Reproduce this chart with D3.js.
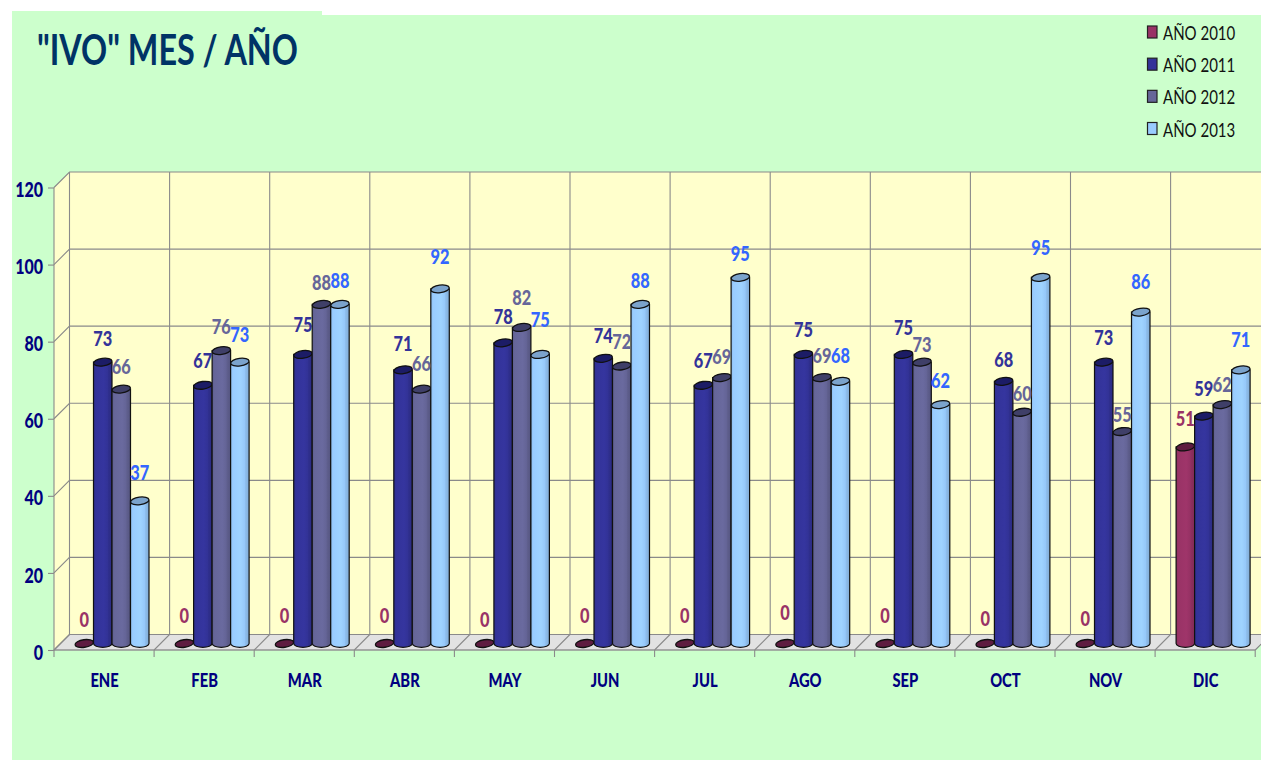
<!DOCTYPE html>
<html><head><meta charset="utf-8">
<script src="https://cdn.jsdelivr.net/npm/d3@7/dist/d3.min.js"></script>
<style>html,body{margin:0;padding:0;background:#fff;overflow:hidden}svg{display:block}text{font-family:Lato,Carlito,sans-serif}</style>
</head><body><div id="c"></div>
<script>
const categories=["ENE","FEB","MAR","ABR","MAY","JUN","JUL","AGO","SEP","OCT","NOV","DIC"];
const seriesNames=["AÑO 2010","AÑO 2011","AÑO 2012","AÑO 2013"];
const values2010=[0,0,0,0,0,0,0,0,0,0,0,51];
const values2011=[73,67,75,71,78,74,67,75,75,68,73,59];
const values2012=[66,76,88,66,82,72,69,69,73,60,55,62];
const values2013=[37,73,88,92,75,88,95,68,62,95,86,71];
const yTicks=[0,20,40,60,80,100,120];
const colors=["#993366","#333399","#666699","#99CCFF"];
const tops=["#5e1c40","#1c1c66","#3f3f68","#7ba3cc"];
const labelColors=["#993366","#333399","#666699","#3366FF"];
const allSeries=[values2010,values2011,values2012,values2013];
// hand placement of data labels, as in the source chart (px down from the default spot)
const labelNudge=[
  [-1,-5,-5,-5,-1,-5,-5,-8,-5,-2,-2,0],
  [5,4,-1,2,2,6,4,4,2,7,4,1],
  [6,4,7,3,-1,4,7,6,11,10,11,8],
  [6,7,11,2,0,11,11,9,10,5,4,4]
];

const W=1261,H=760,depth=15.5,fx0=54,fx1=1255.2;
const svg=d3.select("#c").append("svg").attr("width",W).attr("height",H);
const defs=svg.append("defs");
colors.forEach((c,i)=>{
  const g=defs.append("linearGradient").attr("id","g"+i);
  const col=d3.color(c);
  [[0,col.darker(.25)],[.12,col],[.55,col.brighter(.1)],[.76,col.darker(.05)],[.8,col.darker(.2)],[1,col.darker(.5)]]
    .forEach(s=>g.append("stop").attr("offset",s[0]).attr("stop-color",s[1]));
});
const y=d3.scaleLinear().domain([0,120]).range([650,187.5]);
const x=d3.scaleBand().domain(categories).range([fx0,fx1]);
const sub=d3.scaleBand().domain(d3.range(4)).range([21,95]);
const gridC="#8a8a8a";

// background
svg.append("path").attr("fill","#CCFFCC")
  .attr("d",`M12,11H322V15H${W}V${H}H12Z`);
// walls
svg.append("rect").attr("x",fx0+depth).attr("y",y(120)-depth).attr("width",fx1-fx0)
  .attr("height",y(0)-y(120)).attr("fill","#FFFFCC");
svg.append("path").attr("fill","#FFFFCC")
  .attr("d",`M${fx0},${y(0)}V${y(120)}L${fx0+depth},${y(120)-depth}V${y(0)-depth}Z`);
// floor
svg.append("path").attr("fill","#e2e2e2").attr("stroke","#a8a8a8")
  .attr("d",`M${fx0},${y(0)}L${fx0+depth},${y(0)-depth}H${fx1+depth}L${fx1},${y(0)}Z`);
// grid
const grid=svg.append("g").attr("stroke",gridC).attr("fill","none").attr("stroke-width",1.1);
yTicks.forEach(t=>{
  grid.append("path").attr("d",`M${fx0},${y(t)}L${fx0+depth},${y(t)-depth}H${fx1+depth}`);
});
categories.concat("end").forEach((c,i)=>{
  const xx=fx0+i*x.bandwidth();
  grid.append("path").attr("d",`M${xx},${y(0)}L${xx+depth},${y(0)-depth}V${y(120)-depth}`);
  grid.append("line").attr("x1",xx).attr("x2",xx).attr("y1",y(0)).attr("y2",y(0)+7);
});
grid.append("path").attr("d",`M${fx0},${y(120)}V${y(0)}H${fx1}`);

// axes
const axL=d3.axisLeft(y).tickValues(yTicks).tickSize(6).tickPadding(0).tickSizeOuter(0);
const gL=svg.append("g").attr("transform",`translate(${fx0},0)`).call(axL);
gL.select(".domain").remove();
gL.selectAll("line").attr("stroke",gridC).attr("stroke-width",1.1);
gL.selectAll("text").attr("fill","#000080").attr("font-size",20).attr("font-weight",900)
  .attr("x",0).attr("dy",null).attr("dominant-baseline","middle")
  .attr("transform","translate(-11,4) scale(.8,1)");
const axB=d3.axisBottom(x).tickSize(0).tickPadding(24);
const gB=svg.append("g").attr("transform",`translate(0,${y(0)})`).call(axB);
gB.select(".domain").remove();
gB.selectAll("text").attr("fill","#000080").attr("font-size",18).attr("font-weight",900)
  .attr("transform","translate(0.5,0) scale(.82,1)");

// bars
const base=643.5, rx=sub.bandwidth()/2, ry=3.8;
const vy=v=>base-(y(0)-y(v));
const gBars=svg.append("g");
categories.forEach((c,ci)=>{
  allSeries.forEach((vals,si)=>{
    const v=vals[ci];
    const x0=x(c)+sub(si), x1=x0+sub.bandwidth(), cx=(x0+x1)/2, top=vy(v);
    const g=gBars.append("g");
    if(v>0){
      g.append("path").attr("fill",`url(#g${si})`).attr("stroke","#111").attr("stroke-width",1.2)
       .attr("d",`M${x0},${top}V${base}A${rx},${ry} 0 0 0 ${x1},${base}V${top}Z`);
    }
    g.append("ellipse").attr("cx",cx).attr("cy",top).attr("rx",rx).attr("ry",ry)
     .attr("transform",`rotate(-8 ${cx} ${top})`)
     .attr("fill",tops[si]).attr("stroke","#111").attr("stroke-width",1.3);
  });
});

// data labels
const gLab=svg.append("g");
allSeries.forEach((vals,si)=>{
  vals.forEach((v,ci)=>{
    const cx=x(categories[ci])+sub(si)+sub.bandwidth()/2;
    const off=si===3?33:(v===0?22:27);
    gLab.append("text")
      .attr("transform",`translate(${cx},${vy(v)-off+6+labelNudge[si][ci]}) scale(.82,1)`)
      .attr("text-anchor","middle").attr("font-size",20).attr("font-weight",900)
      .attr("fill",labelColors[si]).text(v);
  });
});

// title
svg.append("text").attr("transform","translate(37,65) scale(.77,1)")
  .attr("font-size",42).attr("font-weight",700).attr("fill","#003366").text('"IVO" MES / AÑO');

// legend
const legY=d3.scalePoint().domain(seriesNames).range([32.5,129]);
const leg=svg.append("g");
seriesNames.forEach((n,i)=>{
  leg.append("rect").attr("x",1147.5).attr("y",legY(n)-6.5).attr("width",9.5).attr("height",12)
    .attr("fill",colors[i]).attr("stroke","#222").attr("stroke-width",1.2);
  leg.append("text").attr("transform",`translate(1163,${legY(n)+7.5}) scale(.77,1)`)
    .attr("font-size",19.5).attr("fill","#111").text(n);
});
</script></body></html>
